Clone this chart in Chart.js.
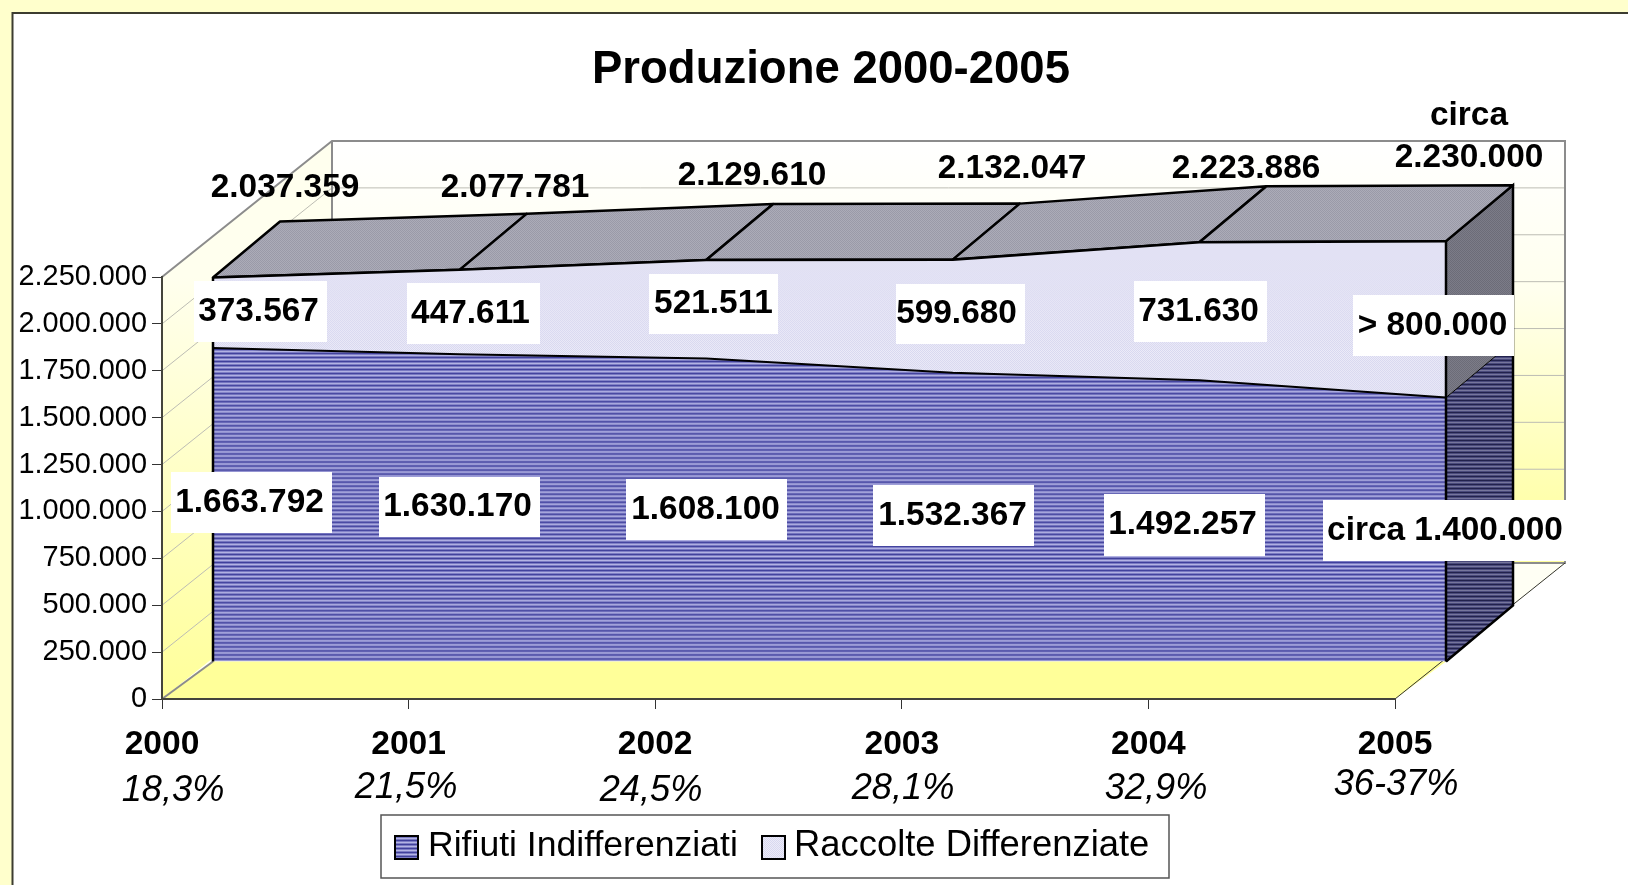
<!DOCTYPE html>
<html>
<head>
<meta charset="utf-8">
<script src="https://cdn.jsdelivr.net/npm/chart.js@4"></script>
<style>
    html, body { margin: 0; padding: 0; background: #ffffcc; overflow: hidden; }
    canvas { display: block; }
</style>
</head>
<body>
<canvas id="produzione" width="1628" height="885"></canvas>
<script>
// Values
const years = ['2000', '2001', '2002', '2003', '2004', '2005'];
const indifferenziati = [1663792, 1630170, 1608100, 1532367, 1492257, 1400000];
const differenziate = [373567, 447611, 521511, 599680, 731630, 830000];
const quotaDifferenziata = ['18,3%', '21,5%', '24,5%', '28,1%', '32,9%', '36-37%'];
const etichetteIndiff = ['1.663.792', '1.630.170', '1.608.100', '1.532.367', '1.492.257', 'circa 1.400.000'];
const etichetteDiff = ['373.567', '447.611', '521.511', '599.680', '731.630', '> 800.000'];
const etichetteTotale = ['2.037.359', '2.077.781', '2.129.610', '2.132.047', '2.223.886', '2.230.000'];
const yTicks = [0, 250000, 500000, 750000, 1000000, 1250000, 1500000, 1750000, 2000000, 2250000];

// Label placement, as hand-moved in the original: left, top, right, bottom of the white boxes
const boxIndiff = [[171, 472, 332, 533], [379, 477, 540, 537], [626, 479, 787, 540], [873, 485, 1034, 546], [1104, 494, 1265, 556], [1323, 500, 1567, 561]];
const boxDiff = [[194, 281, 327, 342], [407, 283, 540, 344], [649, 274, 778, 334], [896, 284, 1025, 344], [1134, 281, 1267, 342], [1353, 295, 1514, 356]];
// the text is not quite centred in its box
const shiftIndiff = [-2, -2, -1, -1, -2, 0];
const shiftDiff = [-2, -3, 0, -4, -2, -1];
const posTotale = [[285, 188], [515, 188], [752, 176], [1012, 169], [1246, 169], [1469, 158]];
const posQuota = [[173, 791], [406, 788], [651, 791], [903, 789], [1156, 789], [1396, 785]];

const FONT = '"Liberation Sans", Arial, sans-serif';
const WALL = { x: 170, y: -136 };   // floor depth
const FRONT = { x: 51, y: -37.5 };  // where the area front sits
const FRONT_K = 1.005;              // the front plane reads slightly taller than the axis
const SLAB = { x: 67, y: -56 };     // thickness of the area

function makePattern(rows) {
    const c = document.createElement('canvas');
    c.height = rows.length;
    c.width = rows[0].length;
    const g = c.getContext('2d');
    rows.forEach((row, y) => row.forEach((col, x) => {
        g.fillStyle = col;
        g.fillRect(x, y, 1, 1);
    }));
    return g.createPattern(c, 'repeat');
}
function stripes(dark, mid, light) {
    return makePattern([[dark], [mid], [light], [mid]]);
}
function dither(a, b) {
    return makePattern([[a, b], [b, a]]);
}

const blueFront = stripes('#40409c', '#7c7cc4', '#b4b4e4');
const blueSide = stripes('#22224c', '#4a4a7c', '#76769c');
const lilacFront = dither('#d8d8f0', '#ecebf8');
const greyTop = dither('#9a9aa8', '#acacb8');
const greySide = dither('#6c6c78', '#7c7c88');

function poly(ctx, pts, fill, stroke, lw) {
    ctx.beginPath();
    pts.forEach((p, i) => i ? ctx.lineTo(p[0], p[1]) : ctx.moveTo(p[0], p[1]));
    ctx.closePath();
    if (fill) { ctx.fillStyle = fill; ctx.fill(); }
    if (stroke) { ctx.strokeStyle = stroke; ctx.lineWidth = lw || 1; ctx.lineJoin = 'round'; ctx.stroke(); }
}

// Page panel, box walls and floor, all hung on the chart's own scales
const backdrop = {
    id: 'backdrop',
    beforeDraw(chart) {
        const { ctx, scales: { x, y } } = chart;
        const x0 = x.getPixelForValue(0), x1 = x.getPixelForValue(years.length - 1);
        const y0 = y.getPixelForValue(0), yTop = y.getPixelForValue(2250000);

        ctx.save();
        ctx.fillStyle = '#ffffff';
        ctx.fillRect(12, 13, 1616, 872);
        ctx.strokeStyle = '#3c3c30';
        ctx.lineWidth = 2;
        ctx.beginPath();
        ctx.moveTo(12.5, 885);
        ctx.lineTo(12.5, 13);
        ctx.lineTo(1628, 13);
        ctx.stroke();

        const wall = ctx.createLinearGradient(0, yTop + WALL.y, 0, y0 + WALL.y);
        wall.addColorStop(0, '#ffffff');
        wall.addColorStop(0.35, '#ffffee');
        wall.addColorStop(1, '#ffff99');
        poly(ctx, [[x0 + WALL.x, yTop + WALL.y], [x1 + WALL.x, yTop + WALL.y], [x1 + WALL.x, y0 + WALL.y], [x0 + WALL.x, y0 + WALL.y]], wall);

        const side = ctx.createLinearGradient(0, yTop, 0, y0);
        side.addColorStop(0, '#ffffee');
        side.addColorStop(1, '#ffff99');
        poly(ctx, [[x0, yTop], [x0 + WALL.x, yTop + WALL.y], [x0 + WALL.x, y0 + WALL.y], [x0, y0]], side);

        // floor: yellow in front, nearly white at the back
        poly(ctx, [[x0, y0], [x1, y0], [x1 + WALL.x, y0 + WALL.y], [x0 + WALL.x, y0 + WALL.y]], '#fffff4');
        poly(ctx, [[x0, y0], [x1, y0], [x1 + FRONT.x, y0 + FRONT.y], [x0 + FRONT.x, y0 + FRONT.y]], '#ffff99');

        // gridlines on both walls
        ctx.strokeStyle = '#bdbdb4';
        ctx.lineWidth = 1;
        yTicks.forEach(v => {
            if (v === 0 || v === 2250000) return;
            const py = y.getPixelForValue(v);
            ctx.beginPath();
            ctx.moveTo(x0, py);
            ctx.lineTo(x0 + WALL.x, py + WALL.y);
            ctx.lineTo(x1 + WALL.x, py + WALL.y);
            ctx.stroke();
        });

        // box outline
        ctx.strokeStyle = '#8c8c8c';
        ctx.lineWidth = 2;
        ctx.beginPath();
        ctx.moveTo(x0, yTop);
        ctx.lineTo(x0 + WALL.x, yTop + WALL.y);
        ctx.lineTo(x1 + WALL.x, yTop + WALL.y);
        ctx.lineTo(x1 + WALL.x, y0 + WALL.y);
        ctx.lineTo(x0 + WALL.x, y0 + WALL.y);
        ctx.moveTo(x0 + WALL.x, yTop + WALL.y);
        ctx.lineTo(x0 + WALL.x, y0 + WALL.y);
        ctx.stroke();
        ctx.beginPath();
        ctx.moveTo(x0, y0);
        ctx.lineTo(x0 + FRONT.x, y0 + FRONT.y);
        ctx.stroke();
        ctx.strokeStyle = '#33332a';
        ctx.lineWidth = 1;
        ctx.beginPath();
        ctx.moveTo(x1, y0);
        ctx.lineTo(x1 + WALL.x, y0 + WALL.y);
        ctx.stroke();
        ctx.restore();
    }
};

// Shifts the stacked areas back onto their plane and draws the top and end faces
const slab = {
    id: 'slab',
    beforeDatasetsDraw(chart) {
        const { ctx, scales: { x, y } } = chart;
        const last = years.length - 1;
        const y0 = y.getPixelForValue(0);
        const px = i => x.getPixelForValue(i) + FRONT.x;
        const py = v => y0 + (y.getPixelForValue(v) - y0) * FRONT_K + FRONT.y;
        const total = years.map((_, i) => indifferenziati[i] + differenziate[i]);

        ctx.save();
        // end face, lower and upper parts
        const xe = px(last);
        const ze = py(0), me = py(indifferenziati[last]), te = py(total[last]);
        poly(ctx, [[xe, ze], [xe + SLAB.x, ze + SLAB.y], [xe + SLAB.x, me + SLAB.y], [xe, me]], blueSide);
        poly(ctx, [[xe, me], [xe + SLAB.x, me + SLAB.y], [xe + SLAB.x, te + SLAB.y], [xe, te]], greySide);
        ctx.strokeStyle = '#000';
        ctx.lineWidth = 2.5;
        ctx.beginPath();
        ctx.moveTo(xe, ze);
        ctx.lineTo(xe + SLAB.x, ze + SLAB.y);
        ctx.lineTo(xe + SLAB.x, te + SLAB.y);
        ctx.lineTo(xe, te);
        ctx.stroke();
        ctx.lineWidth = 1;
        ctx.beginPath();
        ctx.moveTo(xe, me);
        ctx.lineTo(xe + SLAB.x, me + SLAB.y);
        ctx.stroke();

        // top face, one panel per interval
        for (let i = 0; i < last; i++) {
            poly(ctx, [
                [px(i), py(total[i])],
                [px(i + 1), py(total[i + 1])],
                [px(i + 1) + SLAB.x, py(total[i + 1]) + SLAB.y],
                [px(i) + SLAB.x, py(total[i]) + SLAB.y]
            ], greyTop, '#000', 2.5);
        }
        ctx.restore();

        ctx.save();
        ctx.translate(FRONT.x, FRONT.y + y0 * (1 - FRONT_K));
        ctx.scale(1, FRONT_K);
    },
    afterDatasetsDraw(chart) {
        const { ctx, scales: { x, y } } = chart;
        ctx.restore();

        // front edges
        const last = years.length - 1;
        const y0 = y.getPixelForValue(0);
        const py = v => y0 + (y.getPixelForValue(v) - y0) * FRONT_K + FRONT.y;
        ctx.save();
        ctx.strokeStyle = '#000';
        ctx.lineWidth = 2.5;
        ctx.beginPath();
        ctx.moveTo(x.getPixelForValue(0) + FRONT.x, py(0));
        ctx.lineTo(x.getPixelForValue(0) + FRONT.x, py(indifferenziati[0] + differenziate[0]));
        ctx.moveTo(x.getPixelForValue(last) + FRONT.x, py(0));
        ctx.lineTo(x.getPixelForValue(last) + FRONT.x, py(indifferenziati[last] + differenziate[last]));
        ctx.stroke();
        ctx.restore();
    }
};

// Title, value labels, percentages and the boxed legend
const annotations = {
    id: 'annotations',
    afterDraw(chart) {
        const { ctx } = chart;
        ctx.save();
        ctx.textAlign = 'center';
        ctx.textBaseline = 'middle';
        ctx.fillStyle = '#000';

        ctx.font = 'bold 45.5px ' + FONT;
        ctx.fillText('Produzione 2000-2005', 831, 70);

        ctx.font = 'bold 33.4px ' + FONT;
        [[boxIndiff, etichetteIndiff, shiftIndiff], [boxDiff, etichetteDiff, shiftDiff]].forEach(([boxes, texts, shifts]) => {
            boxes.forEach((b, i) => {
                ctx.fillStyle = '#fff';
                ctx.fillRect(b[0], b[1], b[2] - b[0], b[3] - b[1]);
                ctx.fillStyle = '#000';
                ctx.fillText(texts[i], (b[0] + b[2]) / 2 + shifts[i], (b[1] + b[3]) / 2);
            });
        });
        etichetteTotale.forEach((t, i) => ctx.fillText(t, posTotale[i][0], posTotale[i][1]));
        ctx.fillText('circa', 1469, 116);

        ctx.font = 'italic 36.2px ' + FONT;
        quotaDifferenziata.forEach((t, i) => ctx.fillText(t, posQuota[i][0], posQuota[i][1]));

        // legend
        ctx.fillStyle = '#fff';
        ctx.fillRect(381, 815, 788, 63);
        ctx.strokeStyle = '#555';
        ctx.lineWidth = 1.5;
        ctx.strokeRect(381, 815, 788, 63);
        ctx.textAlign = 'left';
        chart.data.datasets.forEach((ds, i) => {
            const sx = i === 0 ? 395 : 762;
            ctx.fillStyle = ds.backgroundColor;
            ctx.fillRect(sx, 836, 23, 23);
            ctx.strokeStyle = '#000';
            ctx.lineWidth = 2;
            ctx.strokeRect(sx, 836, 23, 23);
            ctx.fillStyle = '#000';
            ctx.font = (i === 0 ? '35.6px ' : '36.4px ') + FONT;
            ctx.fillText(ds.label, i === 0 ? 428 : 794, 846);
        });
        ctx.restore();
    }
};

new Chart(document.getElementById('produzione'), {
    type: 'line',
    data: {
        labels: years,
        datasets: [
            {
                label: 'Rifiuti Indifferenziati',
                data: indifferenziati,
                backgroundColor: blueFront,
                borderColor: '#000',
                borderWidth: 2,
                fill: 'origin',
                pointRadius: 0,
                tension: 0,
                clip: false
            },
            {
                label: 'Raccolte Differenziate',
                data: differenziate,
                backgroundColor: lilacFront,
                borderColor: '#000',
                borderWidth: 2.5,
                fill: '-1',
                pointRadius: 0,
                tension: 0,
                clip: false
            }
        ]
    },
    options: {
        responsive: false,
        animation: false,
        layout: { padding: { top: 277, right: 233, left: 0, bottom: 0 } },
        plugins: {
            legend: { display: false },
            title: { display: false },
            tooltip: { enabled: false }
        },
        scales: {
            x: {
                afterFit: s => { s.height = 186; },
                grid: { drawOnChartArea: false, tickLength: 10, color: '#333', offset: false },
                border: { color: '#44443c', width: 2 },
                ticks: { color: '#000', font: { family: FONT, size: 33.6, weight: 'bold' }, padding: 16, maxRotation: 0, autoSkip: false }
            },
            y: {
                stacked: true,
                min: 0,
                max: 2250000,
                afterFit: s => { s.width = 162; },
                afterBuildTicks: s => { s.ticks = yTicks.map(v => ({ value: v })); },
                grid: { drawOnChartArea: false, tickLength: 10, color: '#333' },
                border: { color: '#44443c', width: 2 },
                ticks: {
                    color: '#000',
                    padding: 5,
                    font: { family: FONT, size: 28.9 },
                    callback: v => v.toLocaleString('de-DE')
                }
            }
        }
    },
    plugins: [backdrop, slab, annotations]
});
</script>
</body>
</html>
